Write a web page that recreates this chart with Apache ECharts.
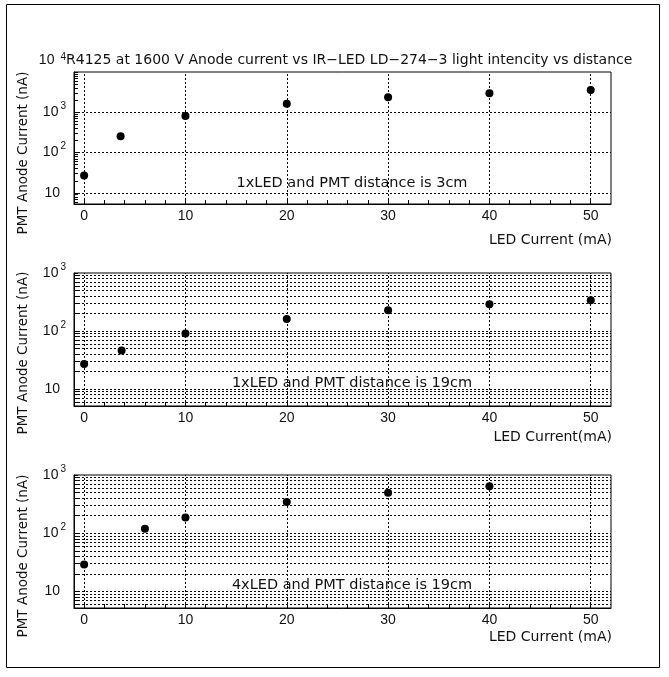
<!DOCTYPE html>
<html><head><meta charset="utf-8">
<script src="https://cdn.jsdelivr.net/npm/echarts@6/dist/echarts.min.js"></script>
<style>html,body{margin:0;padding:0;background:#fff}#c{width:669px;height:677px}</style>
</head><body><div id="c"></div>
<script>
// ---- texts ----
const titleText = 'R4125 at 1600 V Anode current vs IR\u2212LED LD\u2212274\u22123 light intencity vs distance';
const yAxisTitle = 'PMT Anode Current (nA)';
const xAxisTitles = ['LED Current (mA)', 'LED Current(mA)', 'LED Current (mA)'];
const panelNotes = ['1xLED and PMT distance is 3cm', '1xLED and PMT distance is 19cm', '4xLED and PMT distance is 19cm'];

// ---- data ----
const ledCurrent1 = [0, 3.6, 10, 20, 30, 40, 50];
const anode1 = [27, 256, 810, 1630, 2360, 2960, 3590];
const ledCurrent2 = [0, 3.7, 10, 20, 30, 40, 50];
const anode2 = [27, 46, 91, 161, 228, 289, 338];
const ledCurrent3 = [0, 6, 10, 20, 30, 40];
const anode3 = [29, 119, 186, 345, 498, 641];

// ---- axes ----
const xRange = [-1, 52];
const xLabelValues = [0, 10, 20, 30, 40, 50];
const xTickValues = [0, 2, 4, 6, 8, 10, 12, 14, 16, 18, 20, 22, 24, 26, 28, 30, 32, 34, 36, 38, 40, 42, 44, 46, 48, 50];
const yRanges = [[5.3, 10000], [5.1, 1000], [5.2, 1000]];
const yTickValues = [6, 7, 8, 9, 10, 20, 30, 40, 50, 60, 70, 80, 90, 100, 200, 300, 400, 500, 600, 700, 800, 900,
  1000, 2000, 3000, 4000, 5000, 6000, 7000, 8000, 9000, 10000];
const yMajorValues = [10, 100, 1000];

const xs = [ledCurrent1, ledCurrent2, ledCurrent3];
const ys = [anode1, anode2, anode3];

const gridBoxes = [
  {left: 74, right: 58, top: 72, height: 132},
  {left: 74, right: 58, top: 273, height: 133},
  {left: 74, right: 58, top: 475, height: 133}
];
const noteY = [183, 383, 585];
const xTitleY = [240, 437, 637];
const yTitleY = [153, 353, 556];

const txtColor = '#111';
const labelFont = 'Liberation Sans';
const textFont = 'DejaVu Sans';

function yFormatter(panel) {
  return function (v) {
    const e = Math.round(Math.log10(v));
    if (e === 1) return '{m|10}{pad| }';
    if (panel === 0 && e === 4) return '{mt|10}{st|' + e + '}';
    return '{m|10}{s|' + e + '}';
  };
}
const yRich = {
  m: {fontSize: 14, fontFamily: labelFont, color: txtColor},
  s: {fontSize: 10, fontFamily: labelFont, color: txtColor, padding: [0, 0, 12, 2]},
  pad: {fontSize: 10, width: 6},
  mt: {fontSize: 14, fontFamily: labelFont, color: txtColor, padding: [0, 0, 23, 0]},
  st: {fontSize: 10, fontFamily: labelFont, color: txtColor, padding: [0, 0, 30, 6]}
};

const dotted = {color: '#000', width: 1, type: [2, 2]};

const option = {
  animation: false,
  backgroundColor: '#fff',
  grid: gridBoxes.map(g => Object.assign({show: true, borderColor: '#000', borderWidth: 1, backgroundColor: 'transparent'}, g)),
  xAxis: gridBoxes.map((g, i) => ({
    type: 'value', gridIndex: i, min: xRange[0], max: xRange[1],
    splitLine: {show: false},
    axisLine: {show: true, onZero: false, lineStyle: {color: '#000', width: 1}},
    axisTick: {show: true, inside: true, length: 4, customValues: xTickValues, lineStyle: {color: '#000'}},
    axisLabel: {customValues: xLabelValues, margin: 5, fontSize: 14, fontFamily: labelFont, color: txtColor}
  })),
  yAxis: gridBoxes.map((g, i) => ({
    type: 'log', logBase: 10, gridIndex: i, min: yRanges[i][0], max: yRanges[i][1],
    splitLine: {show: false},
    axisLine: {show: true, onZero: false, lineStyle: {color: '#000', width: 1}},
    axisTick: {show: true, inside: true, length: 4,
      customValues: yTickValues.filter(v => v >= yRanges[i][0] && v <= yRanges[i][1]),
      lineStyle: {color: '#000'}},
    axisLabel: {showMinLabel: false, showMaxLabel: true, margin: 8, formatter: yFormatter(i), rich: yRich}
  })),
  series: xs.map((xv, i) => ({
    type: 'scatter', xAxisIndex: i, yAxisIndex: i,
    symbol: 'circle', symbolSize: 8,
    itemStyle: {color: '#000', opacity: 1},
    data: xv.map((x, k) => [x, ys[i][k]]),
    markLine: {
      silent: true, symbol: 'none', label: {show: false}, lineStyle: dotted,
      data: xLabelValues.map(v => ({xAxis: v})).concat(
        (i === 0 ? yMajorValues : yTickValues.filter(v => v > yRanges[i][0] && v < yRanges[i][1])).map(v => ({yAxis: v})))
    }
  })),
  graphic: [
    {type: 'rect', shape: {x: 6.5, y: 4.5, width: 653, height: 663}, style: {fill: 'none', stroke: '#000', lineWidth: 1}, silent: true},
    {type: 'text', x: 66, y: 60, style: {text: titleText, font: '14px "' + textFont + '"', fill: txtColor, textAlign: 'left', textVerticalAlign: 'middle', align: 'left', verticalAlign: 'middle'}}
  ].concat(
    panelNotes.map((t, i) => ({type: 'text', x: 352, y: noteY[i], style: {text: t, font: '14.5px "' + textFont + '"', fill: txtColor, textAlign: 'center', textVerticalAlign: 'middle', align: 'center', verticalAlign: 'middle'}})),
    xAxisTitles.map((t, i) => ({type: 'text', x: 612, y: xTitleY[i], style: {text: t, font: '14px "' + textFont + '"', fill: txtColor, textAlign: 'right', textVerticalAlign: 'middle', align: 'right', verticalAlign: 'middle'}})),
    yTitleY.map((y, i) => ({type: 'text', x: 23, y: y, rotation: Math.PI / 2, style: {text: yAxisTitle, font: '13.5px "' + textFont + '"', fill: txtColor, textAlign: 'center', textVerticalAlign: 'middle', align: 'center', verticalAlign: 'middle'}}))
  )
};
const chart = echarts.init(document.getElementById('c'));
chart.setOption(option);
</script></body></html>
